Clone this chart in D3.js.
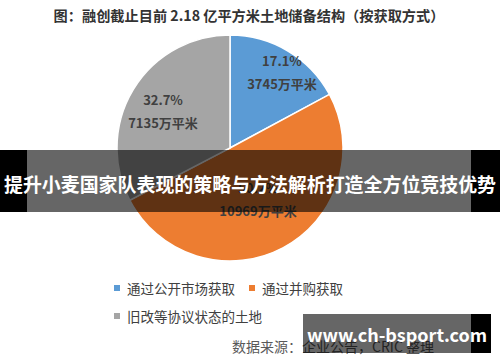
<!DOCTYPE html>
<html>
<head>
<meta charset="utf-8">
<script src="https://cdn.jsdelivr.net/npm/d3@7"></script>
<style>
  html, body { margin: 0; padding: 0; background: #fff; }
  svg { display: block; }
  text { font-family: "Noto Sans CJK SC", "Noto Sans", sans-serif; }
</style>
</head>
<body>
<svg id="chart" width="500" height="362"></svg>
<script>
// Land reserve structure by acquisition method (万平米)
const categories = ["通过公开市场获取", "通过并购获取", "旧改等协议状态的土地"];
const values = [3745, 10969, 7135];
const percentLabels = ["17.1%", "50.2%", "32.7%"];
const colors = ["#5B9BD5", "#ED7D31", "#A5A5A5"];
const title = "图：融创截止目前 2.18 亿平方米土地储备结构（按获取方式）";
const source = "数据来源：企业公告，CRIC 整理";
const banner = "提升小麦国家队表现的策略与方法解析打造全方位竞技优势";
const site = "www.ch-bsport.com";

const svg = d3.select("#chart");
const cx = 230, cy = 148, r = 113;

// Title
svg.append("text")
  .attr("x", 249).attr("y", 21)
  .attr("text-anchor", "middle")
  .attr("font-size", 14.2).attr("font-weight", "bold")
  .attr("fill", "#333")
  .text(title);

// Pie
const pie = d3.pie().sort(null).value(d => d)(values);
const arc = d3.arc().innerRadius(0).outerRadius(r);
const labelPos = [[52, -82], [28, 45], [-67, -43]];

function drawPie(parent) {
  const g = parent.append("g").attr("transform", `translate(${cx},${cy})`);
  g.selectAll("path").data(pie).join("path")
    .attr("d", arc)
    .attr("fill", (d, i) => colors[i])
    .attr("stroke", "#fff").attr("stroke-width", 1.5);
  // Slice labels: percent + area
  labelPos.forEach((p, i) => {
    const t = g.append("text")
      .attr("text-anchor", "middle")
      .attr("font-size", 13).attr("font-weight", "bold")
      .attr("fill", "#404040");
    t.append("tspan").attr("x", p[0]).attr("y", p[1]).text(percentLabels[i]);
    t.append("tspan").attr("x", p[0]).attr("y", p[1] + 23).text(values[i] + "万平米");
  });
}
drawPie(svg);

// Legend
const legendItems = [
  { x: 114, y: 289 }, { x: 249, y: 289 }, { x: 114, y: 317 }
];
legendItems.forEach((p, i) => {
  svg.append("rect").attr("x", p.x).attr("y", p.y - 4)
    .attr("width", 6).attr("height", 6).attr("fill", colors[i]);
  svg.append("text").attr("x", p.x + 13).attr("y", p.y + 4.5)
    .attr("font-size", 13.5).attr("fill", "#404040")
    .text(categories[i]);
});

// Source note
svg.append("text").attr("x", 232).attr("y", 352)
  .attr("font-size", 14).attr("fill", "#595959")
  .text(source);

// Headline banner across the chart: solid black margins, translucent middle
svg.append("rect").attr("x", 0).attr("y", 150).attr("width", 500).attr("height", 62).attr("fill", "#000");
svg.append("defs").append("clipPath").attr("id", "band")
  .append("rect").attr("x", 27).attr("y", 150).attr("width", 444).attr("height", 62);
const under = svg.append("g").attr("clip-path", "url(#band)");
under.append("rect").attr("x", 27).attr("y", 150).attr("width", 444).attr("height", 62).attr("fill", "#fff");
drawPie(under);
svg.append("rect").attr("x", 27).attr("y", 150).attr("width", 444).attr("height", 62)
  .attr("fill", "#000").attr("fill-opacity", 0.6);
svg.append("text").attr("x", 250).attr("y", 192)
  .attr("text-anchor", "middle")
  .attr("font-size", 19.6).attr("font-weight", "bold")
  .attr("textLength", 492).attr("lengthAdjust", "spacingAndGlyphs")
  .attr("fill", "#fff")
  .text(banner);

// Site badge
svg.append("rect").attr("x", 303).attr("y", 314).attr("width", 168).attr("height", 39)
  .attr("fill", "#000").attr("fill-opacity", 0.6);
svg.append("rect").attr("x", 471).attr("y", 314).attr("width", 20).attr("height", 39)
  .attr("fill", "#000");
svg.append("text").attr("x", 397).attr("y", 342)
  .attr("text-anchor", "middle")
  .attr("font-size", 18).attr("font-weight", "bold")
  .attr("fill", "#fff")
  .text(site);
</script>
</body>
</html>
